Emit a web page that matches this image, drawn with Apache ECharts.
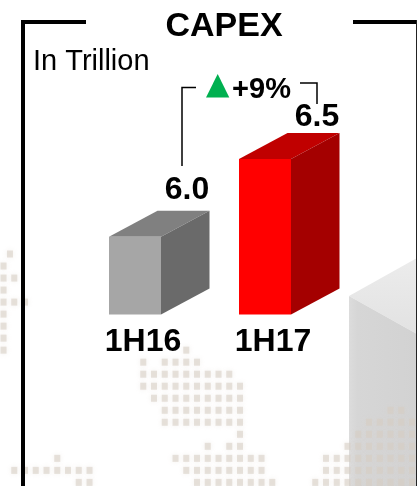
<!DOCTYPE html>
<html>
<head>
<meta charset="utf-8">
<style>
  html, body { margin: 0; padding: 0; background: #fff; }
  #chart { width: 417px; height: 486px; }
</style>
<script src="https://cdn.jsdelivr.net/npm/echarts@6/dist/echarts.min.js"></script>
</head>
<body>
<div id="chart"></div>
<script>
const categories = ['1H16', '1H17'];
const capex = [6.0, 6.5];
const valueLabels = ['6.0', '6.5'];

// background dot map: [row, firstColumn, lastColumn]
const mapRuns = [
  [0, 0.6, 0.6], [1, 0, 0], [2, 0, 1], [3, 0, 0], [4, 0, 2], [5, 0, 0], [6, 0, 0], [7, 0, 0], [8, 0, 0],
  [8, 17, 17], [9, 13, 13], [9, 15, 18], [10, 13, 21], [11, 13, 22], [12, 14, 22], [13, 15, 22], [14, 15, 22],
  [15, 22, 22], [16, 19, 19], [16, 21, 22], [17, 16, 24], [18, 17, 24], [19, 18, 25],
  [17, 5, 5], [18, 1, 8], [19, 7, 8],
  [13, 36, 37], [14, 34, 38], [15, 33, 38], [16, 32, 38], [17, 30, 38], [18, 30, 38], [19, 29, 38]
];

const FONT = '"Liberation Sans", Arial, sans-serif';
// depth of the fake 3d boxes, px
const DX = 48.5;
const DY = 26;
const labelLift = [21, 16];

const palettes = [
  {front: '#a6a6a6', top: '#808080', side: '#6a6a6a'},
  {front: '#ff0000', top: '#c00000', side: '#a40000'}
];

function renderBox(params, api) {
  const i = params.dataIndex;
  const top = api.coord([api.value(0), api.value(1)]);
  const base = api.coord([api.value(0), 5.5]);
  const w = api.size([1, 0])[0] * 0.4;
  const x0 = top[0] - 34;
  const x1 = x0 + w;
  const c = palettes[i];
  return {
    type: 'group',
    children: [
      {type: 'polygon', shape: {points: [[x0, top[1]], [x1, top[1]], [x1 + DX, top[1] - DY], [x0 + DX, top[1] - DY]]}, style: {fill: c.top}},
      {type: 'polygon', shape: {points: [[x1, top[1]], [x1 + DX, top[1] - DY], [x1 + DX, base[1] - DY], [x1, base[1]]]}, style: {fill: c.side}},
      {type: 'rect', shape: {x: x0, y: top[1], width: w, height: base[1] - top[1]}, style: {fill: c.front}},
      {type: 'text', x: x0 + 78, y: top[1] - DY - labelLift[i], style: {
        text: valueLabels[i], font: 'bold 32px ' + FONT, fill: '#000', align: 'center', verticalAlign: 'middle'
      }}
    ]
  };
}

const mapDots = [];
mapRuns.forEach(function (run) {
  for (let c = run[1]; c <= run[2]; c++) {
    mapDots.push([c, run[0]]);
  }
});

const myChart = echarts.init(document.getElementById('chart'), null, {renderer: 'canvas'});
const option = {
  animation: false,
  backgroundColor: '#fff',
  grid: [
    {left: 78, width: 260, top: 159, height: 155.5},
    {left: 0, top: 0, width: 417, height: 486}
  ],
  xAxis: [
    {
      type: 'category', gridIndex: 0, data: categories,
      axisLine: {show: false}, axisTick: {show: false},
      axisLabel: {color: '#000', fontFamily: FONT, fontWeight: 'bold', fontSize: 32, margin: 12}
    },
    // dot map columns
    {type: 'value', gridIndex: 1, show: false, min: -0.326, max: 38.465}
  ],
  yAxis: [
    {type: 'value', gridIndex: 0, show: false, min: 5.5, max: 6.5},
    // dot map rows
    {type: 'value', gridIndex: 1, show: false, inverse: true, min: -21.13, max: 19.3}
  ],
  series: [
    {
      type: 'scatter', xAxisIndex: 1, yAxisIndex: 1, data: mapDots, silent: true, z: 1,
      symbol: 'rect', symbolSize: [6, 7],
      itemStyle: {color: 'rgba(214,205,195,0.7)', shadowBlur: 5, shadowColor: 'rgba(214,205,195,0.55)'}
    },
    {
      type: 'custom', xAxisIndex: 0, yAxisIndex: 0, data: capex.map(function (v, i) { return [i, v]; }),
      encode: {x: 0, y: 1}, renderItem: renderBox, silent: true, z: 3
    }
  ],
  graphic: [
    // pale cube behind the dots, lower right
    {type: 'polygon', z: -1, shape: {points: [[349, 296], [417, 258], [417, 334]]},
      style: {fill: new echarts.graphic.LinearGradient(0, 0, 0, 1, [{offset: 0, color: '#ececec'}, {offset: 1, color: '#e2e2e2'}])}},
    {type: 'polygon', z: -1, shape: {points: [[349, 296], [417, 334], [417, 486], [349, 486]]},
      style: {fill: new echarts.graphic.LinearGradient(0, 0, 1, 0, [{offset: 0, color: '#dcdcdc'}, {offset: 0.12, color: '#d6d6d6'}, {offset: 1, color: '#d2d2d2'}])}},
    // frame
    {type: 'polyline', z: 5, shape: {points: [[86, 22], [23, 22], [23, 486]]}, style: {fill: null, stroke: '#000', lineWidth: 4}},
    {type: 'line', z: 5, shape: {x1: 353, y1: 22, x2: 417, y2: 22}, style: {stroke: '#000', lineWidth: 4}},
    {type: 'line', z: 5, shape: {x1: 416.5, y1: 20, x2: 416.5, y2: 486}, style: {stroke: '#222', lineWidth: 1}},
    {type: 'text', z: 6, x: 224, y: 27, style: {text: 'CAPEX', font: 'bold 34px ' + FONT, fill: '#000', align: 'center', verticalAlign: 'middle'}},
    {type: 'text', z: 6, x: 33, y: 61.5, style: {text: 'In Trillion', font: '29px ' + FONT, fill: '#000', align: 'left', verticalAlign: 'middle'}},
    // growth bracket
    {type: 'polyline', z: 6, shape: {points: [[182, 166], [182, 87.5], [196, 87.5]]}, style: {fill: null, stroke: '#000', lineWidth: 1.5}},
    {type: 'polyline', z: 6, shape: {points: [[300, 83], [317, 83], [317, 104]]}, style: {fill: null, stroke: '#000', lineWidth: 1.5}},
    {type: 'polygon', z: 6, shape: {points: [[206, 97.5], [217.7, 74], [229.3, 97.5]]}, style: {fill: '#00b050'}},
    {type: 'text', z: 6, x: 261.5, y: 90, style: {text: '+9%', font: 'bold 29px ' + FONT, fill: '#000', align: 'center', verticalAlign: 'middle'}}
  ]
};
myChart.setOption(option);
</script>
</body>
</html>
